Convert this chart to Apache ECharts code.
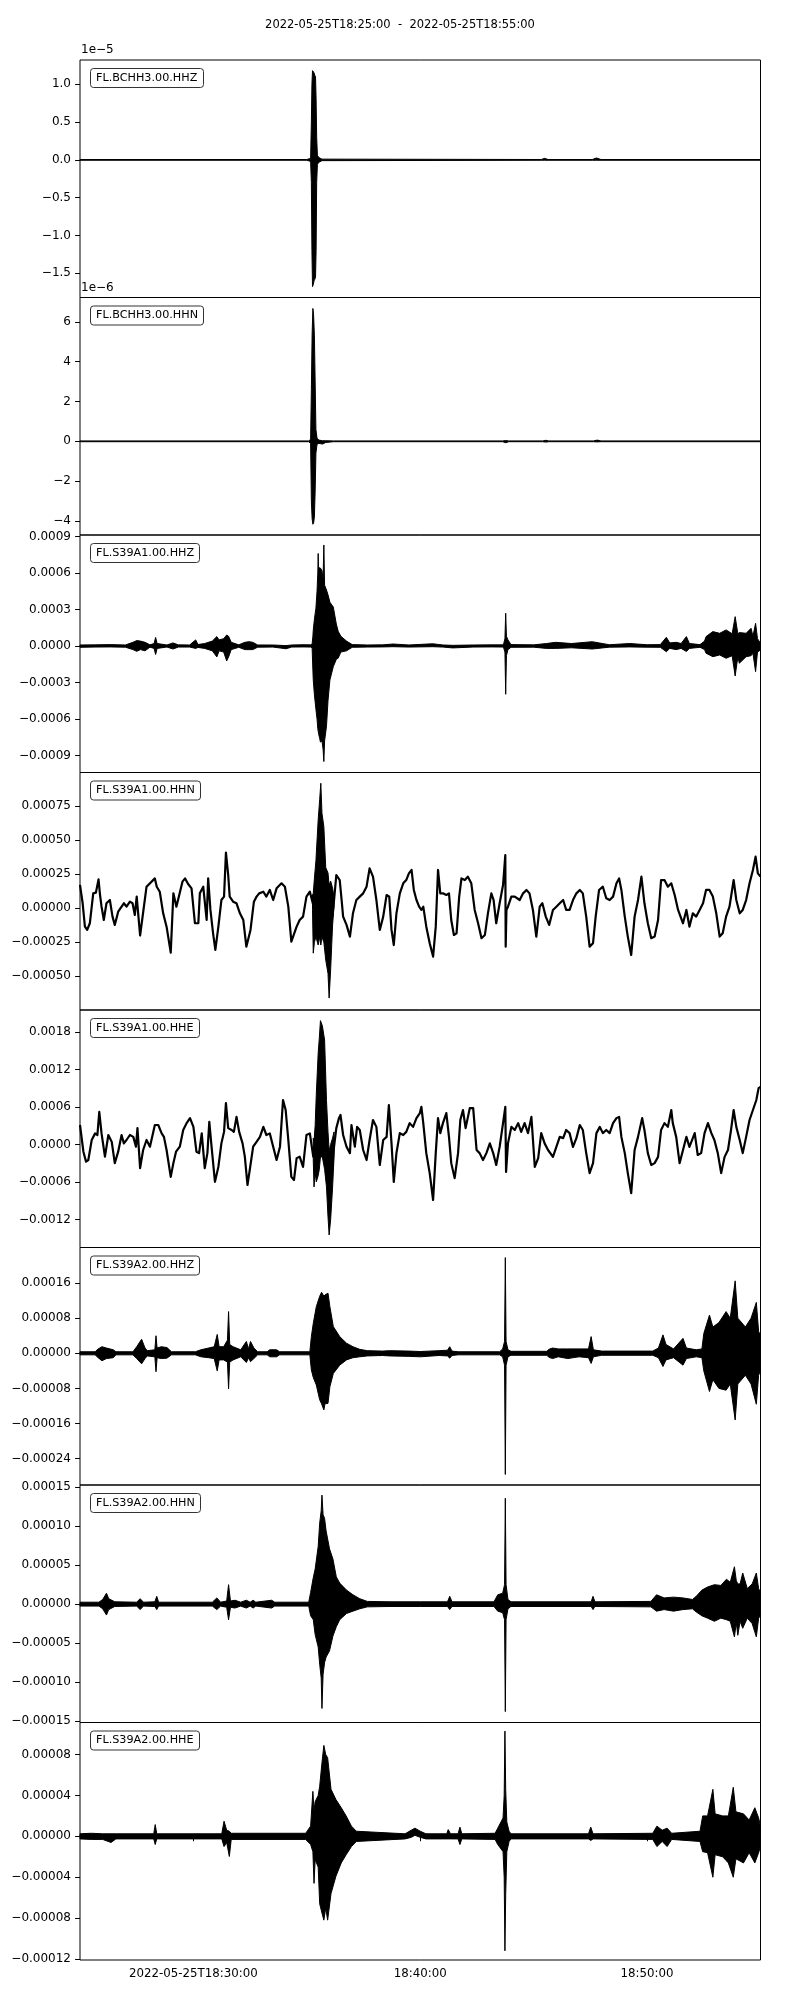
<!DOCTYPE html>
<html><head><meta charset="utf-8">
<script src="https://cdn.jsdelivr.net/npm/echarts@6/dist/echarts.min.js"></script>
<style>html,body{margin:0;padding:0;background:#fff}#chart{width:800px;height:2000px}</style>
</head><body><div id="chart"></div>
<script>
// ---------------- DATA ----------------
const figTitle = '2022-05-25T18:25:00  -  2022-05-25T18:55:00';
const traceNames = ['FL.BCHH3.00.HHZ','FL.BCHH3.00.HHN','FL.S39A1.00.HHZ','FL.S39A1.00.HHN','FL.S39A1.00.HHE','FL.S39A2.00.HHZ','FL.S39A2.00.HHN','FL.S39A2.00.HHE'];
// time axis: seconds after 2022-05-25T18:25:00
const timeRange = [0, 1800];
const xTickValues = [300, 900, 1500];
const xTickLabels = ['2022-05-25T18:30:00', '18:40:00', '18:50:00'];

const yLimits = [
  [-1.82e-5, 1.321e-5], [-4.71e-6, 7.23e-6], [-0.00104, 0.000912], [-0.000748, 0.000999],
  [-0.00165, 0.00215], [-0.0003, 0.000241], [-0.000152, 0.000153], [-0.000121, 0.0001114]
];
const yTickValues = [
  [-1.5e-5, -1.0e-5, -0.5e-5, 0, 0.5e-5, 1.0e-5],
  [-4e-6, -2e-6, 0, 2e-6, 4e-6, 6e-6],
  [-0.0009, -0.0006, -0.0003, 0, 0.0003, 0.0006, 0.0009],
  [-0.0005, -0.00025, 0, 0.00025, 0.0005, 0.00075],
  [-0.0012, -0.0006, 0, 0.0006, 0.0012, 0.0018],
  [-0.00024, -0.00016, -0.00008, 0, 0.00008, 0.00016],
  [-0.00015, -0.0001, -0.00005, 0, 0.00005, 0.0001, 0.00015],
  [-0.00012, -0.00008, -0.00004, 0, 0.00004, 0.00008]
];
const yTickLabels = [
  ['\u22121.5', '\u22121.0', '\u22120.5', '0.0', '0.5', '1.0'],
  ['\u22124', '\u22122', '0', '2', '4', '6'],
  ['\u22120.0009', '\u22120.0006', '\u22120.0003', '0.0000', '0.0003', '0.0006', '0.0009'],
  ['\u22120.00050', '\u22120.00025', '0.00000', '0.00025', '0.00050', '0.00075'],
  ['\u22120.0012', '\u22120.0006', '0.0000', '0.0006', '0.0012', '0.0018'],
  ['\u22120.00024', '\u22120.00016', '\u22120.00008', '0.00000', '0.00008', '0.00016'],
  ['\u22120.00015', '\u22120.00010', '\u22120.00005', '0.00000', '0.00005', '0.00010', '0.00015'],
  ['\u22120.00012', '\u22120.00008', '\u22120.00004', '0.00000', '0.00004', '0.00008']
];
const offsetTexts = ['1e\u22125', '1e\u22126', '', '', '', '', '', ''];

// envelope rows: [time s, min, max]
const bchh3HHZ = [
  [0,-0.005e-5,0.005e-5],[600,-0.005e-5,0.005e-5],[610,-0.02e-5,0.02e-5],[612,-0.3e-5,0.5e-5],[613.5,-1.2e-5,1.0e-5],
  [615,-1.676e-5,1.18e-5],[617,-1.65e-5,1.17e-5],[619,-1.6e-5,1.15e-5],[621,-1.58e-5,1.12e-5],[623,-1.55e-5,1.1e-5],
  [624.5,-1.2e-5,0.8e-5],[626,-0.3e-5,0.3e-5],[628,-0.06e-5,0.06e-5],[632,-0.03e-5,0.03e-5],[640,-0.01e-5,0.01e-5],
  [1220,-0.005e-5,0.005e-5],[1229,-0.005e-5,0.02e-5],[1238,-0.005e-5,0.005e-5],[1355,-0.005e-5,0.005e-5],
  [1366,-0.005e-5,0.025e-5],[1378,-0.005e-5,0.005e-5],[1800,-0.005e-5,0.005e-5]
];
const bchh3HHN = [
  [0,-0.02e-6,0.02e-6],[605,-0.02e-6,0.02e-6],[610,-0.1e-6,0.1e-6],[612,-3.0e-6,2.6e-6],[614,-3.9e-6,5.4e-6],
  [616,-4.17e-6,6.68e-6],[618,-4.1e-6,6.3e-6],[620,-3.8e-6,5.3e-6],[622,-2.5e-6,3.0e-6],[624,-0.6e-6,0.6e-6],
  [627,-0.15e-6,0.15e-6],[632,-0.1e-6,0.06e-6],[641,-0.14e-6,0.03e-6],[650,-0.06e-6,0.03e-6],[670,-0.02e-6,0.02e-6],
  [1118,-0.02e-6,0.02e-6],[1126,-0.07e-6,0.04e-6],[1134,-0.02e-6,0.02e-6],[1224,-0.02e-6,0.02e-6],[1232,-0.04e-6,0.05e-6],
  [1240,-0.02e-6,0.02e-6],[1358,-0.02e-6,0.02e-6],[1368,-0.03e-6,0.06e-6],[1378,-0.02e-6,0.02e-6],[1800,-0.02e-6,0.02e-6]
];
const s39a1HHZ = [
  [0,-1.1e-5,0.8e-5],[40,-0.9e-5,0.9e-5],[80,-0.8e-5,1.1e-5],[120,-1.0e-5,0.8e-5],[140,-3.0e-5,3.0e-5],[150,-4.4e-5,4.4e-5],
  [160,-3.0e-5,4.0e-5],[172,-4.0e-5,3.0e-5],[185,-1.0e-5,0.9e-5],[196,-2.0e-5,2.0e-5],[200,-7.0e-5,7.0e-5],[204,-2.0e-5,2.0e-5],
  [230,-0.9e-5,0.8e-5],[246,-2.5e-5,2.5e-5],[260,-0.9e-5,0.9e-5],[290,-0.9e-5,0.8e-5],[306,-2.0e-5,5.0e-5],[312,-1.2e-5,1.2e-5],
  [330,-2.0e-5,2.0e-5],[350,-4.0e-5,4.0e-5],[362,-9.0e-5,7.7e-5],[368,-4.0e-5,5.0e-5],[380,-5.0e-5,6.0e-5],[388,-12.3e-5,9.0e-5],
  [393,-9.0e-5,8.0e-5],[400,-3.0e-5,3.0e-5],[420,-1.1e-5,0.9e-5],[436,-3.0e-5,3.0e-5],[447,-3.0e-5,3.5e-5],[457,-3.0e-5,3.0e-5],
  [470,-1.0e-5,0.8e-5],[510,-0.9e-5,0.8e-5],[545,-2.3e-5,0.3e-5],[560,-0.9e-5,0.8e-5],[590,-0.8e-5,1.0e-5],[610,-0.9e-5,0.9e-5],
  [614,-1.5e-5,1.5e-5],[616,-20e-5,8e-5],[617,-28e-5,13e-5],[620,-40e-5,22e-5],[624,-52e-5,31e-5],[627,-60e-5,45e-5],
  [629,-68e-5,60e-5],[630,-70e-5,76e-5],[631,-72e-5,65e-5],[634,-76e-5,64e-5],[636,-79e-5,64e-5],[640,-78e-5,62e-5],
  [643,-85e-5,55e-5],[645,-95e-5,83e-5],[647,-78e-5,50e-5],[652,-66e-5,46e-5],[656,-45e-5,42e-5],[661,-28e-5,36e-5],
  [670,-17e-5,32e-5],[678,-11e-5,18e-5],[683,-10e-5,12e-5],[690,-5e-5,8e-5],[705,-4e-5,4e-5],[720,-1.1e-5,1.1e-5],
  [760,-0.9e-5,0.8e-5],[800,-0.8e-5,0.9e-5],[828,-0.6e-5,1.6e-5],[870,-0.9e-5,0.8e-5],[933,-0.6e-5,1.8e-5],[960,-0.9e-5,0.8e-5],
  [986,-1.6e-5,0.5e-5],[1040,-0.9e-5,0.8e-5],[1090,-0.8e-5,0.9e-5],[1120,-0.9e-5,0.9e-5],[1124,-5e-5,6e-5],[1126,-39.7e-5,26.9e-5],
  [1128,-8e-5,8e-5],[1132,-3e-5,5e-5],[1140,-1.1e-5,1.1e-5],[1200,-1.0e-5,0.9e-5],[1234,-2.0e-5,2.0e-5],[1258,-2.0e-5,3.0e-5],
  [1300,-1.5e-5,2.0e-5],[1355,-2.5e-5,3.5e-5],[1400,-1.0e-5,1.0e-5],[1454,-0.8e-5,2.0e-5],[1500,-1.0e-5,1.0e-5],[1535,-1.1e-5,1.1e-5],
  [1551,-4.7e-5,7.1e-5],[1560,-2.0e-5,2.5e-5],[1577,-3.0e-5,3.0e-5],[1590,-2.0e-5,2.0e-5],[1604,-4.5e-5,7.7e-5],[1612,-2.0e-5,2.0e-5],
  [1640,-1.1e-5,1.1e-5],[1652,-3e-5,4e-5],[1656,-6.0e-5,7.7e-5],[1674,-8.8e-5,11.8e-5],[1692,-7.4e-5,10.4e-5],[1709,-10.1e-5,13.2e-5],
  [1725,-8e-5,10e-5],[1733,-24.7e-5,24.1e-5],[1740,-9e-5,10e-5],[1744,-14.2e-5,11e-5],[1762,-8.8e-5,10.4e-5],[1775,-8e-5,14.5e-5],
  [1780,-6e-5,8e-5],[1787,-21.1e-5,18.6e-5],[1792,-5e-5,6e-5],[1800,-3.3e-5,2.2e-5]
];
// trace line rows: [time s, value]
const s39a1HHNLine = [
  [0,17.2e-5],[7,3.7e-5],[13,-13.5e-5],[19,-15.9e-5],[26,-11e-5],[35,11e-5],[42,11.5e-5],[49,21.3e-5],[53,9.8e-5],[57,1.2e-5],
  [63,-8.6e-5],[70,3.7e-5],[79,6.1e-5],[86,-6.1e-5],[92,-12.2e-5],[101,-2.5e-5],[110,1.2e-5],[116,3.7e-5],[123,1.2e-5],[132,4.9e-5],
  [139,3.7e-5],[145,-4.9e-5],[150,8.6e-5],[159,-20e-5],[176,15.9e-5],[198,22e-5],[203,15.9e-5],[211,12.2e-5],[220,-3.7e-5],
  [229,-13.5e-5],[240,-32.6e-5],[247,11e-5],[255,1.2e-5],[271,19.6e-5],[278,22e-5],[286,17.9e-5],[295,14.7e-5],[304,-11e-5],
  [313,-11e-5],[317,11e-5],[326,15.9e-5],[335,-8.6e-5],[339,22e-5],[345,-1.2e-5],[352,-18.4e-5],[358,-30.6e-5],[366,-13.5e-5],
  [374,6.1e-5],[381,8.6e-5],[386,40.9e-5],[392,24.5e-5],[396,8.6e-5],[405,4.9e-5],[414,3.7e-5],[423,-3.7e-5],[432,-8.6e-5],
  [440,-28.2e-5],[445,-29.4e-5],[451,-15.9e-5],[460,4.9e-5],[467,8.6e-5],[474,11e-5],[485,12.2e-5],[493,8.6e-5],[502,13.5e-5],
  [511,6.1e-5],[520,14.7e-5],[533,18.4e-5],[542,15.9e-5],[551,1.2e-5],[559,-24.5e-5],[564,-25.7e-5],[573,-13.5e-5],[581,-8.6e-5],
  [590,-6.1e-5],[599,8.6e-5],[608,12.2e-5],[617,2.5e-5],[622,5e-5],[630,10e-5],[640,15e-5],[650,5e-5],[660,-10e-5],[668,-5e-5],
  [672,6.1e-5],[678,24.5e-5],[683,25.7e-5],[687,20.8e-5],[692,6.1e-5],[696,-6.1e-5],[705,-12.2e-5],[714,-20.8e-5],[722,-3.7e-5],
  [731,6.1e-5],[740,8.6e-5],[749,11e-5],[758,15.9e-5],[766,29.4e-5],[775,23.3e-5],[784,6.1e-5],[793,-15.9e-5],[802,-6.1e-5],
  [811,9.8e-5],[818,8.6e-5],[824,-15.9e-5],[830,-27e-5],[837,-3.7e-5],[846,11e-5],[855,18.4e-5],[863,20.8e-5],[870,25.7e-5],
  [877,28.2e-5],[883,13.5e-5],[890,6.1e-5],[897,1.2e-5],[903,-1.2e-5],[908,1.2e-5],[916,-13.5e-5],[925,-25.7e-5],[934,-35.5e-5],
  [941,-13.5e-5],[947,28.2e-5],[953,11e-5],[960,11e-5],[969,9.8e-5],[976,11e-5],[982,-8.6e-5],[989,-19.6e-5],[996,-18.4e-5],
  [1003,8.6e-5],[1009,22e-5],[1018,20.8e-5],[1026,23.3e-5],[1035,18.4e-5],[1044,-1.2e-5],[1053,-11e-5],[1062,-22e-5],[1071,-19.6e-5],
  [1079,-3.7e-5],[1088,11e-5],[1094,6.1e-5],[1101,-11e-5],[1110,3.7e-5],[1119,17.1e-5],[1125,39.2e-5],[1126,-28.2e-5],[1128,-1.2e-5],
  [1132,1.2e-5],[1141,8.6e-5],[1150,8.6e-5],[1163,6.1e-5],[1172,11e-5],[1181,13.5e-5],[1189,11e-5],[1198,-1.2e-5],[1207,-20.8e-5],
  [1216,1.2e-5],[1223,3.7e-5],[1232,-6.1e-5],[1241,-12.2e-5],[1251,-1.2e-5],[1260,1.2e-5],[1269,3.7e-5],[1278,6.1e-5],[1286,-1.2e-5],
  [1295,-1.2e-5],[1304,6.1e-5],[1313,11e-5],[1322,13.5e-5],[1330,11e-5],[1339,-6.1e-5],[1348,-28.2e-5],[1357,-25.7e-5],[1364,-6.1e-5],
  [1373,13.5e-5],[1383,15.9e-5],[1392,7.4e-5],[1401,6.1e-5],[1410,8.6e-5],[1419,18.4e-5],[1426,22e-5],[1432,13.5e-5],[1441,-6.1e-5],
  [1449,-20.8e-5],[1458,-34.3e-5],[1467,-6.1e-5],[1476,6.1e-5],[1485,23.3e-5],[1493,3.7e-5],[1502,-11e-5],[1511,-22e-5],[1520,-20.8e-5],
  [1529,-8.6e-5],[1537,20.8e-5],[1546,20.8e-5],[1555,15.9e-5],[1564,18.4e-5],[1573,9.8e-5],[1582,-1.2e-5],[1595,-11e-5],[1604,-1.2e-5],
  [1612,-13.5e-5],[1621,-3.7e-5],[1630,-6.1e-5],[1639,-1.2e-5],[1648,3.7e-5],[1656,13.5e-5],[1665,13.5e-5],[1674,8.6e-5],[1683,-3.7e-5],
  [1692,-20.8e-5],[1700,-18.4e-5],[1709,-6.1e-5],[1718,1.2e-5],[1729,20.8e-5],[1736,6.1e-5],[1745,-3.7e-5],[1753,-1.2e-5],[1762,6.1e-5],
  [1771,18.4e-5],[1780,28.2e-5],[1787,38e-5],[1793,25.7e-5],[1800,23.3e-5]
];
const s39a1HHNEvent = [
  [615,-1e-5,10e-5],[617,-33e-5,11e-5],[620,-25e-5,22e-5],[624,-21e-5,35e-5],[630,-27e-5,65e-5],[634,-21e-5,80e-5],[637,-27e-5,92e-5],
  [640,-21e-5,70e-5],[645,-25e-5,60e-5],[650,-38e-5,30e-5],[656,-48e-5,26e-5],[659,-66e-5,17e-5],[663,-45e-5,20e-5],[668,-13e-5,15e-5],
  [672,2e-5,8e-5]
];
const s39a1HHELine = [
  [0,31e-5],[9,-11.7e-5],[16,-27.7e-5],[22,-25e-5],[31,7e-5],[40,17.6e-5],[46,15e-5],[51,52e-5],[57,17.6e-5],[66,-19.7e-5],[75,15e-5],
  [84,4e-5],[92,-30e-5],[101,-11.7e-5],[110,15e-5],[116,1.6e-5],[123,7e-5],[132,15e-5],[141,12e-5],[148,-3.7e-5],[152,26e-5],
  [159,-38e-5],[167,-9e-5],[176,7e-5],[185,-3.7e-5],[198,31e-5],[207,31e-5],[216,17.6e-5],[222,12e-5],[229,-9e-5],[240,-52e-5],
  [247,-30e-5],[254,-11.7e-5],[264,-3.7e-5],[273,23e-5],[282,34e-5],[291,42e-5],[300,28e-5],[308,-11.7e-5],[315,-14e-5],[322,17.6e-5],
  [330,-38e-5],[337,-14e-5],[342,36e-5],[348,-3.7e-5],[357,-60e-5],[366,-36e-5],[374,1.6e-5],[381,20e-5],[386,66e-5],[392,26e-5],
  [401,23e-5],[407,20e-5],[414,44e-5],[421,20e-5],[430,1.6e-5],[436,-19.7e-5],[443,-65e-5],[449,-41e-5],[458,-3.7e-5],[467,4e-5],
  [476,12e-5],[485,28e-5],[493,15e-5],[502,17.6e-5],[511,-3.7e-5],[520,-25e-5],[529,-3.7e-5],[537,71e-5],[544,55e-5],[551,7e-5],
  [559,-52e-5],[566,-57e-5],[573,-22e-5],[581,-19.7e-5],[590,-36e-5],[599,15e-5],[608,17.6e-5],[617,-19.7e-5],[625,20e-5],[635,60e-5],
  [645,50e-5],[655,-40e-5],[665,-50e-5],[672,-3.7e-5],[678,26e-5],[685,42e-5],[689,47e-5],[696,15e-5],[705,-3.7e-5],[714,-14e-5],
  [718,31e-5],[727,-3.7e-5],[733,28e-5],[740,23e-5],[749,-9e-5],[758,-25e-5],[766,7e-5],[775,39e-5],[784,28e-5],[793,-33e-5],
  [802,7e-5],[811,12e-5],[817,63e-5],[824,1.6e-5],[830,-60e-5],[837,-14e-5],[846,18e-5],[855,15e-5],[863,20e-5],[872,34e-5],
  [881,28e-5],[890,42e-5],[899,50e-5],[903,60e-5],[908,34e-5],[916,-14e-5],[925,-46e-5],[934,-89e-5],[941,-14e-5],[947,42e-5],
  [953,18e-5],[960,34e-5],[969,50e-5],[976,12e-5],[982,-30e-5],[991,-54e-5],[1000,-14e-5],[1006,39e-5],[1013,55e-5],[1020,26e-5],
  [1031,58e-5],[1040,58e-5],[1049,-9e-5],[1057,-14e-5],[1066,-25e-5],[1075,-14e-5],[1084,1.6e-5],[1093,-14e-5],[1101,-33e-5],
  [1110,-4e-5],[1119,34e-5],[1125,60e-5],[1127,-44e-5],[1132,1.6e-5],[1141,28e-5],[1150,23e-5],[1159,34e-5],[1167,20e-5],[1176,34e-5],
  [1185,18e-5],[1194,44e-5],[1203,-36e-5],[1212,-22e-5],[1220,18e-5],[1229,1.6e-5],[1238,-9e-5],[1251,-20e-5],[1260,-4e-5],
  [1269,12e-5],[1278,10e-5],[1286,23e-5],[1295,18e-5],[1304,-4e-5],[1313,10e-5],[1322,31e-5],[1330,23e-5],[1339,-14e-5],[1348,-46e-5],
  [1357,-30e-5],[1366,18e-5],[1375,28e-5],[1383,18e-5],[1392,23e-5],[1401,18e-5],[1410,34e-5],[1419,42e-5],[1426,44e-5],[1432,12e-5],
  [1441,-14e-5],[1449,-46e-5],[1458,-78e-5],[1467,-9e-5],[1476,12e-5],[1487,42e-5],[1493,23e-5],[1502,-14e-5],[1511,-33e-5],
  [1520,-30e-5],[1529,-20e-5],[1537,23e-5],[1546,34e-5],[1555,28e-5],[1564,55e-5],[1568,34e-5],[1577,12e-5],[1586,-30e-5],[1595,-9e-5],
  [1604,12e-5],[1612,-4e-5],[1626,18e-5],[1634,-17e-5],[1643,-14e-5],[1652,18e-5],[1661,34e-5],[1670,18e-5],[1678,7e-5],[1687,-14e-5],
  [1696,-46e-5],[1705,-20e-5],[1714,-9e-5],[1722,23e-5],[1729,55e-5],[1736,28e-5],[1745,7e-5],[1753,-14e-5],[1762,12e-5],[1771,39e-5],
  [1780,55e-5],[1789,71e-5],[1795,90e-5],[1800,92e-5]
];
const s39a1HHEEvent = [
  [617,-25e-5,10e-5],[619,-68e-5,5e-5],[622,-45e-5,30e-5],[625,-60e-5,80e-5],[630,-50e-5,146e-5],[633,-40e-5,170e-5],
  [636,-20e-5,198e-5],[641,-20e-5,190e-5],[647,-40e-5,167e-5],[652,-68e-5,70e-5],[656,-116e-5,20e-5],[659,-145e-5,-10e-5],
  [663,-120e-5,0],[668,-70e-5,10e-5],[672,-20e-5,20e-5]
];
const s39a2HHZ = [
  [0,-0.35e-5,0.35e-5],[40,-0.35e-5,0.35e-5],[48,-1.0e-5,1.0e-5],[58,-1.7e-5,1.5e-5],[70,-1.2e-5,1.2e-5],[88,-1.0e-5,0.8e-5],
  [95,-0.35e-5,0.35e-5],[140,-0.35e-5,0.35e-5],[150,-1.2e-5,1.5e-5],[163,-2.4e-5,3.2e-5],[172,-1.2e-5,1.2e-5],[178,-0.6e-5,0.6e-5],
  [198,-0.8e-5,0.8e-5],[201,-4.2e-5,4.0e-5],[204,-1.0e-5,1.2e-5],[215,-1.2e-5,1.5e-5],[230,-1.1e-5,1.3e-5],[242,-0.35e-5,0.35e-5],
  [305,-0.35e-5,0.35e-5],[320,-0.8e-5,0.8e-5],[340,-1.0e-5,1.2e-5],[355,-1.2e-5,1.5e-5],[363,-4.0e-5,4.3e-5],[368,-1.5e-5,1.5e-5],
  [380,-1.5e-5,1.5e-5],[390,-2.0e-5,3.0e-5],[393,-8.1e-5,9.5e-5],[396,-2.0e-5,2.0e-5],[405,-1.5e-5,1.5e-5],[425,-0.8e-5,0.8e-5],
  [440,-2.1e-5,2.7e-5],[446,-1.0e-5,1.0e-5],[451,-1.9e-5,2.7e-5],[460,-1.2e-5,1.2e-5],[470,-0.35e-5,0.35e-5],[495,-0.35e-5,0.35e-5],
  [502,-0.8e-5,0.8e-5],[520,-0.8e-5,0.8e-5],[528,-0.35e-5,0.35e-5],[608,-0.35e-5,0.35e-5],[612,-3.8e-5,3.8e-5],[617,-5.5e-5,6.8e-5],
  [625,-7.2e-5,10.6e-5],[634,-10.6e-5,13.0e-5],[639,-11.5e-5,13.9e-5],[645,-12.9e-5,13.0e-5],[648,-11.5e-5,13.3e-5],
  [656,-11.4e-5,13.7e-5],[661,-7.6e-5,10.6e-5],[670,-4.6e-5,6.1e-5],[687,-2.7e-5,3.8e-5],[705,-1.5e-5,2.3e-5],[722,-1.0e-5,1.5e-5],
  [740,-0.8e-5,0.9e-5],[760,-0.6e-5,0.6e-5],[800,-0.5e-5,0.5e-5],[819,-0.6e-5,0.6e-5],[870,-0.7e-5,0.5e-5],[900,-0.8e-5,0.4e-5],
  [950,-0.5e-5,0.6e-5],[972,-0.6e-5,0.7e-5],[978,-1.1e-5,1.5e-5],[984,-0.5e-5,0.5e-5],[1000,-0.35e-5,0.35e-5],[1110,-0.35e-5,0.35e-5],
  [1118,-0.8e-5,1.0e-5],[1123,-2.7e-5,2.7e-5],[1125,-27.6e-5,21.8e-5],[1127,-2.7e-5,2.7e-5],[1132,-0.8e-5,0.8e-5],[1140,-0.45e-5,0.45e-5],
  [1235,-0.45e-5,0.45e-5],[1240,-0.9e-5,0.9e-5],[1250,-1.2e-5,1.2e-5],[1265,-0.8e-5,1.0e-5],[1290,-1.2e-5,1.0e-5],[1320,-0.8e-5,1.0e-5],
  [1345,-1.0e-5,1.0e-5],[1352,-2.3e-5,3.8e-5],[1358,-0.8e-5,0.8e-5],[1380,-0.45e-5,0.5e-5],[1515,-0.45e-5,0.5e-5],[1530,-1.0e-5,1.2e-5],
  [1542,-3.0e-5,4.2e-5],[1550,-1.5e-5,2.0e-5],[1570,-1.0e-5,1.0e-5],[1595,-2.7e-5,3.4e-5],[1604,-1.2e-5,1.2e-5],[1630,-0.8e-5,0.8e-5],
  [1645,-1.0e-5,1.0e-5],[1650,-4.0e-5,4.5e-5],[1665,-8.7e-5,8.7e-5],[1674,-6.0e-5,6.0e-5],[1690,-8.0e-5,7.0e-5],[1709,-8.4e-5,9.5e-5],
  [1720,-7.0e-5,8.0e-5],[1733,-15.2e-5,16.5e-5],[1740,-7.0e-5,8.0e-5],[1760,-5.0e-5,6.0e-5],[1775,-7.0e-5,8.0e-5],
  [1789,-11.6e-5,11.6e-5],[1795,-5.0e-5,5.0e-5],[1800,-4.0e-5,4.0e-5]
];
const s39a2HHN = [
  [0,-0.25e-5,0.25e-5],[50,-0.25e-5,0.25e-5],[60,-0.6e-5,0.6e-5],[70,-1.4e-5,1.4e-5],[76,-0.7e-5,0.7e-5],[92,-0.3e-5,0.3e-5],
  [150,-0.25e-5,0.25e-5],[159,-0.7e-5,0.7e-5],[168,-0.25e-5,0.25e-5],[198,-0.3e-5,0.3e-5],[203,-0.7e-5,1.0e-5],[208,-0.25e-5,0.25e-5],
  [350,-0.25e-5,0.25e-5],[362,-0.7e-5,0.8e-5],[372,-0.25e-5,0.25e-5],[388,-0.4e-5,0.4e-5],[393,-2.0e-5,2.5e-5],[398,-0.4e-5,0.4e-5],
  [410,-0.5e-5,0.5e-5],[425,-0.25e-5,0.25e-5],[440,-0.5e-5,0.5e-5],[450,-0.25e-5,0.25e-5],[458,-0.5e-5,0.5e-5],[465,-0.25e-5,0.25e-5],
  [507,-0.5e-5,0.5e-5],[515,-0.25e-5,0.25e-5],[605,-0.25e-5,0.25e-5],[610,-1.5e-5,1.5e-5],[617,-2.0e-5,3.4e-5],[622,-3.9e-5,4.5e-5],
  [630,-5.5e-5,7.4e-5],[634,-7.7e-5,10.4e-5],[638,-9.5e-5,12.0e-5],[640,-13.4e-5,14.0e-5],[643,-9.0e-5,11.5e-5],[647,-7.5e-5,11.0e-5],
  [651,-6.8e-5,9.4e-5],[660,-6.0e-5,7.1e-5],[669,-4.1e-5,5.8e-5],[678,-2.9e-5,3.5e-5],[687,-2.0e-5,2.7e-5],[705,-1.2e-5,1.8e-5],
  [722,-0.9e-5,1.2e-5],[740,-0.6e-5,0.7e-5],[760,-0.35e-5,0.35e-5],[820,-0.3e-5,0.3e-5],[900,-0.3e-5,0.3e-5],[972,-0.3e-5,0.3e-5],
  [978,-0.7e-5,1.0e-5],[984,-0.3e-5,0.3e-5],[1095,-0.3e-5,0.3e-5],[1105,-0.9e-5,1.2e-5],[1118,-1.1e-5,1.4e-5],[1123,-2.0e-5,2.5e-5],
  [1125,-13.8e-5,13.6e-5],[1127,-2.0e-5,2.5e-5],[1132,-0.6e-5,0.6e-5],[1140,-0.3e-5,0.3e-5],[1352,-0.3e-5,0.3e-5],[1357,-0.7e-5,1.0e-5],
  [1362,-0.3e-5,0.3e-5],[1510,-0.35e-5,0.35e-5],[1525,-0.9e-5,1.2e-5],[1545,-0.7e-5,0.8e-5],[1570,-0.9e-5,0.9e-5],[1595,-0.7e-5,0.8e-5],
  [1620,-0.6e-5,0.6e-5],[1630,-1.0e-5,1.0e-5],[1645,-1.5e-5,1.8e-5],[1660,-1.8e-5,2.2e-5],[1678,-2.2e-5,2.5e-5],[1695,-1.8e-5,2.4e-5],
  [1710,-2.0e-5,3.2e-5],[1720,-2.2e-5,2.8e-5],[1731,-4.2e-5,4.8e-5],[1736,-2.4e-5,3.0e-5],[1740,-4.0e-5,2.6e-5],[1746,-2.2e-5,2.6e-5],
  [1753,-3.1e-5,4.0e-5],[1765,-1.8e-5,2.0e-5],[1778,-2.5e-5,2.6e-5],[1789,-4.2e-5,4.0e-5],[1795,-1.8e-5,2.0e-5],[1800,-1.5e-5,1.5e-5]
];
const s39a2HHE = [
  [0,-0.25e-5,0.25e-5],[30,-0.3e-5,0.3e-5],[60,-0.3e-5,0.25e-5],[82,-0.6e-5,0.25e-5],[95,-0.25e-5,0.25e-5],[195,-0.25e-5,0.25e-5],
  [199,-0.8e-5,1.15e-5],[203,-0.25e-5,0.25e-5],[375,-0.25e-5,0.25e-5],[381,-1.0e-5,1.48e-5],[388,-0.6e-5,0.6e-5],[395,-1.97e-5,0.5e-5],
  [400,-0.3e-5,0.3e-5],[597,-0.3e-5,0.3e-5],[610,-0.8e-5,1.0e-5],[616,-1.5e-5,4.4e-5],[619,-4.6e-5,2.5e-5],[622,-2.3e-5,3.4e-5],
  [630,-3.0e-5,4.0e-5],[634,-6.6e-5,4.9e-5],[640,-7.5e-5,7.2e-5],[645,-8.2e-5,8.9e-5],[650,-7.0e-5,8.0e-5],[655,-8.2e-5,7.7e-5],
  [664,-5.6e-5,4.6e-5],[677,-3.9e-5,3.6e-5],[691,-2.6e-5,2.8e-5],[704,-1.8e-5,2.0e-5],[718,-1.0e-5,1.0e-5],[731,-0.5e-5,0.5e-5],
  [860,-0.25e-5,0.25e-5],[876,-0.1e-5,0.6e-5],[886,0.1e-5,0.8e-5],[900,-0.1e-5,0.5e-5],[915,-0.25e-5,0.25e-5],[970,-0.25e-5,0.25e-5],
  [974,-0.25e-5,0.66e-5],[980,-0.25e-5,0.25e-5],[1000,-0.25e-5,0.25e-5],[1005,-0.8e-5,0.9e-5],[1010,-0.25e-5,0.25e-5],
  [1098,-0.3e-5,0.3e-5],[1105,-0.8e-5,0.8e-5],[1119,-1.5e-5,1.8e-5],[1122,-4.0e-5,4.0e-5],[1124,-11.2e-5,10.3e-5],[1126,-5.7e-5,4.6e-5],
  [1129,-1.5e-5,1.4e-5],[1135,-0.5e-5,0.5e-5],[1140,-0.25e-5,0.25e-5],[1345,-0.25e-5,0.25e-5],[1351,-0.4e-5,0.9e-5],
  [1357,-0.25e-5,0.25e-5],[1515,-0.3e-5,0.3e-5],[1526,-1.0e-5,1.0e-5],[1540,-0.5e-5,0.6e-5],[1553,-1.0e-5,0.8e-5],[1565,-0.3e-5,0.3e-5],
  [1640,-0.5e-5,0.5e-5],[1647,-1.5e-5,2.0e-5],[1660,-1.6e-5,2.0e-5],[1674,-4.0e-5,4.6e-5],[1680,-1.8e-5,2.2e-5],[1700,-2.0e-5,2.0e-5],
  [1715,-2.6e-5,2.0e-5],[1728,-4.0e-5,4.8e-5],[1735,-2.2e-5,2.4e-5],[1755,-2.6e-5,2.2e-5],[1770,-1.6e-5,1.6e-5],[1785,-2.6e-5,2.8e-5],
  [1795,-1.6e-5,1.8e-5],[1800,-1.0e-5,1.0e-5]
];

// ---------------- CHART ----------------
const FONT = 'DejaVu Sans';
const panelCount = 8, panelTop = 60, panelH = 237.5, plotLeft = 80, plotW = 680.5;

function labelFor(values, labels, tol) {
  return function (v) {
    for (let k = 0; k < values.length; k++) if (Math.abs(values[k] - v) <= tol) return labels[k];
    return '';
  };
}
function bandSeries(rows, idx) {
  return {
    type: 'custom', xAxisIndex: idx, yAxisIndex: idx, data: rows,
    encode: { x: 0, y: [1, 2] }, silent: true, animation: false,
    renderItem: function (params, api) {
      if (params.dataIndex !== 0) return null;
      const pts = [];
      for (let k = 0; k < rows.length; k++) pts.push(api.coord([rows[k][0], rows[k][2]]));
      for (let k = rows.length - 1; k >= 0; k--) pts.push(api.coord([rows[k][0], rows[k][1]]));
      return { type: 'polygon', shape: { points: pts },
        style: { fill: '#000', stroke: '#000', lineWidth: 1, lineJoin: 'round' } };
    }
  };
}
function lineSeries(rows, idx) {
  return { type: 'line', xAxisIndex: idx, yAxisIndex: idx, data: rows, symbol: 'none', showSymbol: false,
    silent: true, animation: false, lineStyle: { color: '#000', width: 2.2, join: 'round' } };
}

const grids = [], xAxes = [], yAxes = [], titles = [], graphics = [];
titles.push({ text: figTitle, left: 'center', top: 14,
  textStyle: { fontFamily: FONT, fontSize: 11.5, fontWeight: 'normal', color: '#000', lineHeight: 13 } });
for (let i = 0; i < panelCount; i++) {
  const top = panelTop + i * panelH;
  grids.push({ left: plotLeft, top: top, width: plotW, height: panelH, show: true,
    borderColor: '#000', borderWidth: 1, backgroundColor: 'transparent', containLabel: false, outerBoundsMode: 'none' });
  const last = i === panelCount - 1;
  xAxes.push({ type: 'value', gridIndex: i, min: timeRange[0], max: timeRange[1], show: last,
    axisLine: { show: false }, splitLine: { show: false },
    axisTick: { show: last, customValues: xTickValues, length: 4.9, lineStyle: { color: '#000', width: 1 } },
    axisLabel: { show: last, customValues: xTickValues, margin: 8, color: '#000', fontFamily: FONT, fontSize: 11.8,
      formatter: labelFor(xTickValues, xTickLabels, 0.5) } });
  const range = yLimits[i][1] - yLimits[i][0];
  yAxes.push({ type: 'value', gridIndex: i, min: yLimits[i][0], max: yLimits[i][1],
    axisLine: { show: false }, splitLine: { show: false },
    axisTick: { show: true, customValues: yTickValues[i], length: 4.9, lineStyle: { color: '#000', width: 1 } },
    axisLabel: { show: true, customValues: yTickValues[i], margin: 9, color: '#000', fontFamily: FONT, fontSize: 12,
      formatter: labelFor(yTickValues[i], yTickLabels[i], range * 1e-6) } });
  titles.push({ text: traceNames[i], left: 90, top: top + 8,
    padding: [3, 6, 3, 6], backgroundColor: 'rgba(255,255,255,0.8)', borderColor: '#333', borderWidth: 1, borderRadius: 3,
    textStyle: { fontFamily: FONT, fontSize: 11.2, fontWeight: 'normal', color: '#000', lineHeight: 14 } });
  if (offsetTexts[i]) {
    graphics.push({ type: 'text', left: 81, top: top - 16, z: 100,
      style: { text: offsetTexts[i], fontFamily: FONT, fontSize: 12, fill: '#000' } });
  }
}

const series = [
  bandSeries(bchh3HHZ, 0),
  bandSeries(bchh3HHN, 1),
  bandSeries(s39a1HHZ, 2),
  lineSeries(s39a1HHNLine, 3), bandSeries(s39a1HHNEvent, 3),
  lineSeries(s39a1HHELine, 4), bandSeries(s39a1HHEEvent, 4),
  bandSeries(s39a2HHZ, 5),
  bandSeries(s39a2HHN, 6),
  bandSeries(s39a2HHE, 7)
];

const chart = echarts.init(document.getElementById('chart'), null, { renderer: 'canvas' });
chart.setOption({ backgroundColor: '#fff', animation: false, title: titles, grid: grids,
  xAxis: xAxes, yAxis: yAxes, graphic: graphics, series: series });
</script></body></html>
